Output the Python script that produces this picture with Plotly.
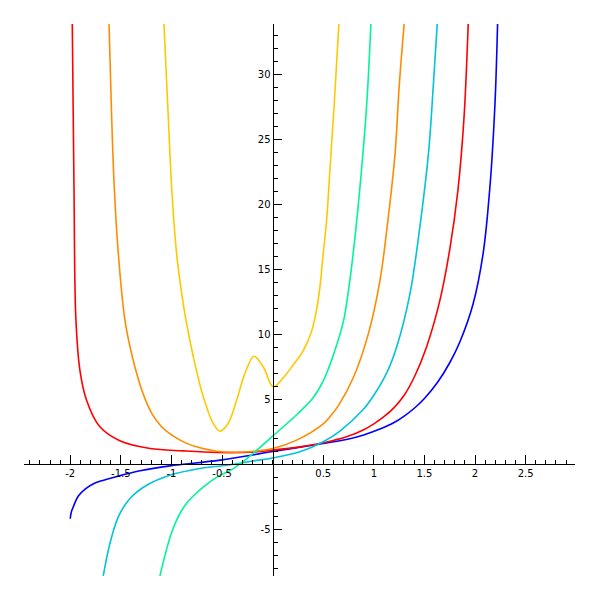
import plotly.graph_objects as go

# ---- data ----
blue_x = [-2.0, -1.99, -1.97, -1.92, -1.85, -1.77, -1.67, -1.575, -1.31, -1.015, -0.52, 0.0, 0.5, 0.73, 0.9, 1.06, 1.2, 1.3, 1.4, 1.5, 1.63, 1.75, 1.85, 1.98, 2.08, 2.147, 2.197, 2.223]
blue_y = [-4.2, -3.7, -3.28, -2.45, -1.9, -1.5, -1.23, -1.02, -0.51, -0.13, 0.31, 0.97, 1.59, 1.9, 2.25, 2.7, 3.2, 3.7, 4.3, 5.05, 6.3, 7.8, 9.4, 12.3, 16.2, 21.3, 27.7, 33.9]

red_x = [-1.98, -1.963, -1.944, -1.904, -1.838, -1.707, -1.51, -1.21, -0.88, -0.55, -0.22, 0.0, 0.27, 0.5, 0.73, 0.9, 1.0, 1.1, 1.2, 1.3, 1.406, 1.52, 1.65, 1.75, 1.83, 1.89, 1.933]
red_y = [33.9, 21.3, 11.1, 7.2, 4.9, 2.87, 1.8, 1.2, 1.02, 0.9, 0.92, 1.08, 1.33, 1.64, 2.1, 2.65, 3.1, 3.65, 4.35, 5.3, 6.8, 9.0, 12.5, 16.5, 21.0, 26.5, 33.9]

orange_x = [-1.617, -1.59, -1.565, -1.525, -1.46, -1.4, -1.33, -1.26, -1.19, -1.1, -1.0, -0.85, -0.7, -0.55, -0.4, -0.2, 0.0, 0.237, 0.5, 0.566, 0.65, 0.8, 0.945, 1.06, 1.14, 1.21, 1.25, 1.30]
orange_y = [33.9, 26.5, 21.3, 16.2, 11.1, 8.7, 6.6, 5.0, 3.85, 2.9, 2.25, 1.6, 1.22, 1.0, 0.92, 0.98, 1.2, 1.85, 3.1, 3.65, 4.5, 6.7, 10.0, 14.1, 18.8, 23.9, 29.0, 33.9]

cyan_x = [-1.674, -1.608, -1.525, -1.41, -1.245, -1.015, -0.72, -0.455, -0.19, 0.0, 0.27, 0.5, 0.665, 0.895, 1.0, 1.126, 1.225, 1.357, 1.455, 1.54, 1.587, 1.627]
cyan_y = [-8.6, -6.1, -4.05, -2.64, -1.62, -0.85, -0.33, -0.08, 0.25, 0.48, 0.95, 1.72, 2.55, 4.2, 5.3, 7.0, 9.0, 13.1, 18.25, 23.9, 29.0, 33.9]

green_x = [-1.114, -1.06, -1.0, -0.93, -0.85, -0.75, -0.652, -0.55, -0.45, -0.38, -0.3, -0.175, 0.0, 0.25, 0.4, 0.5, 0.6, 0.7, 0.75, 0.796, 0.863, 0.93, 0.971]
green_y = [-8.6, -6.9, -5.3, -4.0, -3.0, -2.2, -1.55, -1.0, -0.6, -0.3, 0.15, 0.95, 2.15, 3.9, 5.1, 6.4, 8.4, 11.0, 13.4, 16.2, 21.3, 27.7, 33.9]

gold_x = [-1.074, -1.03, -0.998, -0.949, -0.9, -0.85, -0.785, -0.686, -0.587, -0.52, -0.44, -0.356, -0.274, -0.185, -0.093, 0.006, 0.1, 0.2, 0.3, 0.38, 0.43, 0.467, 0.50, 0.534, 0.566, 0.609, 0.655]
gold_y = [33.9, 26.5, 21.3, 16.2, 13.2, 10.8, 8.3, 5.2, 3.13, 2.54, 3.13, 4.92, 6.97, 8.3, 7.49, 5.95, 6.6, 7.6, 8.7, 10.1, 11.7, 13.6, 16.2, 18.8, 22.6, 27.7, 33.9]

x_tickvals = [-2, -1.5, -1, -0.5, 0.5, 1, 1.5, 2, 2.5]
x_ticktext = ["-2", "-1.5", "-1", "-0.5", "0.5", "1", "1.5", "2", "2.5"]
y_tickvals = [-5, 5, 10, 15, 20, 25, 30]
y_ticktext = ["-5", "5", "10", "15", "20", "25", "30"]

x_range = [-2.457, 2.988]
y_range = [-8.6, 33.85]

series = [
    (blue_x, blue_y, "#0000ff"),
    (red_x, red_y, "#ff0000"),
    (orange_x, orange_y, "#ff8c00"),
    (cyan_x, cyan_y, "#00c3dc"),
    (green_x, green_y, "#00f59a"),
    (gold_x, gold_y, "#ffc800"),
]

fig = go.Figure()
for xs, ys, c in series:
    fig.add_trace(go.Scatter(x=xs, y=ys, mode="lines",
                             line=dict(color=c, width=1.6, shape="spline", smoothing=1.0),
                             hoverinfo="skip", showlegend=False))

xpos = (0 - y_range[0]) / (y_range[1] - y_range[0])
ypos = (0 - x_range[0]) / (x_range[1] - x_range[0])

font = dict(family="DejaVu Sans", size=10, color="black")
fig.update_layout(
    width=600, height=600,
    # the page body adds an 8px offset; margins compensate for it
    margin=dict(l=16, r=33, t=16, b=32),
    plot_bgcolor="white", paper_bgcolor="white",
    showlegend=False,
    xaxis=dict(range=x_range, anchor="free", position=xpos, automargin=False,
               showgrid=False, zeroline=False, showline=True, linecolor="black", linewidth=1.2,
               ticks="inside", ticklen=9, tickwidth=1, tickcolor="black",
               tickvals=x_tickvals, ticktext=x_ticktext, tickfont=font,
               minor=dict(dtick=0.1, ticks="inside", ticklen=4, tickwidth=1, tickcolor="black", showgrid=False)),
    yaxis=dict(range=y_range, anchor="free", position=ypos, automargin=False,
               showgrid=False, zeroline=False, showline=True, linecolor="black", linewidth=1.2,
               ticks="inside", ticklen=8, tickwidth=1, tickcolor="black",
               tickvals=y_tickvals, ticktext=y_ticktext, tickfont=font,
               minor=dict(dtick=1, ticks="inside", ticklen=4, tickwidth=1, tickcolor="black", showgrid=False)),
)

fig.write_html("out.html")
